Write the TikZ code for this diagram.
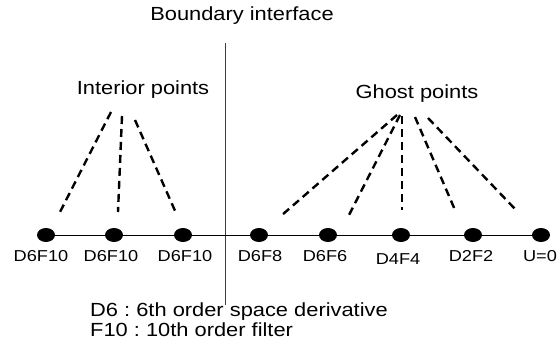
\documentclass[tikz,border=0pt]{standalone}
\usepackage{fontspec}
\setmainfont[FakeStretch=1.15]{Liberation Sans}
\usetikzlibrary{shapes.geometric}
\frenchspacing
\begin{document}
\begin{tikzpicture}[x=1pt,y=-1pt,
  pt/.style={ellipse,fill=black,draw=none,minimum width=18pt,minimum height=14pt,inner sep=0pt},
  lbl/.style={anchor=base,inner sep=0pt,font=\fontsize{15.8}{18}\selectfont},
  head/.style={anchor=base,inner sep=0pt,font=\fontsize{19}{22}\selectfont},
  dashline/.style={line width=2.4pt,dash pattern=on 8pt off 5pt},
  axis/.style={line width=0.8pt}]
\frenchspacing
\useasboundingbox (0,0) rectangle (557,345);
% boundary
\coordinate (btop) at (225,43);
\coordinate (bbot) at (225,305);
\draw[line width=0.9pt,black!75] (btop) -- (bbot);
% points
\node[pt] (p1) at (46,235) {};
\node[pt] (p2) at (114,235) {};
\node[pt] (p3) at (183,235) {};
\node[pt] (p4) at (259,235) {};
\node[pt] (p5) at (328,235) {};
\node[pt] (p6) at (401,235) {};
\node[pt] (p7) at (473,235) {};
\node[pt] (p8) at (541,235) {};
\draw[axis] (p1) -- (p2) -- (p3) -- (p4) -- (p5) -- (p6) -- (p7) -- (p8);
% labels
\node[lbl] (l1) at (41,261) {D6F10};
\node[lbl] (l2) at (111,261) {D6F10};
\node[lbl] (l3) at (185,261) {D6F10};
\node[lbl] (l4) at (260,261) {D6F8};
\node[lbl] (l5) at (325,261) {D6F6};
\node[lbl] (l6) at (398,264) {D4F4};
\node[lbl] (l7) at (471,261) {D2F2};
\node[lbl] (l8) at (540,261) {U=0};
% headings
\node[head] (bi) at (242,21) {Boundary interface};
\node[head] (ip) at (143,95) {Interior points};
\node[head] (gp) at (417,99) {Ghost points};
% interior dashed lines
\coordinate (ia1) at (111,112); \coordinate (ib1) at (60,212);
\coordinate (ia2) at (122,116); \coordinate (ib2) at (118,212);
\coordinate (ia3) at (135,120); \coordinate (ib3) at (176,213);
\draw[dashline] (ia1) -- (ib1);
\draw[dashline] (ia2) -- (ib2);
\draw[dashline] (ia3) -- (ib3);
% ghost dashed lines
\coordinate (ga1) at (397,115); \coordinate (gb1) at (282,215);
\coordinate (ga2) at (400,115); \coordinate (gb2) at (348,217);
\coordinate (ga3) at (402,116); \coordinate (gb3) at (402,210);
\coordinate (ga4) at (415,117); \coordinate (gb4) at (455,210);
\coordinate (ga5) at (428,118); \coordinate (gb5) at (516,210);
\draw[dashline] (ga1) -- (gb1);
\draw[dashline] (ga2) -- (gb2);
\draw[dashline] (ga3) -- (gb3);
\draw[dashline] (ga4) -- (gb4);
\draw[dashline] (ga5) -- (gb5);
% legend
\node[head,anchor=base west] (n1) at (90,316) {D6 : 6th order space derivative};
\node[head,anchor=base west] (n2) at (90,336) {F10 : 10th order filter};
\end{tikzpicture}
\end{document}
